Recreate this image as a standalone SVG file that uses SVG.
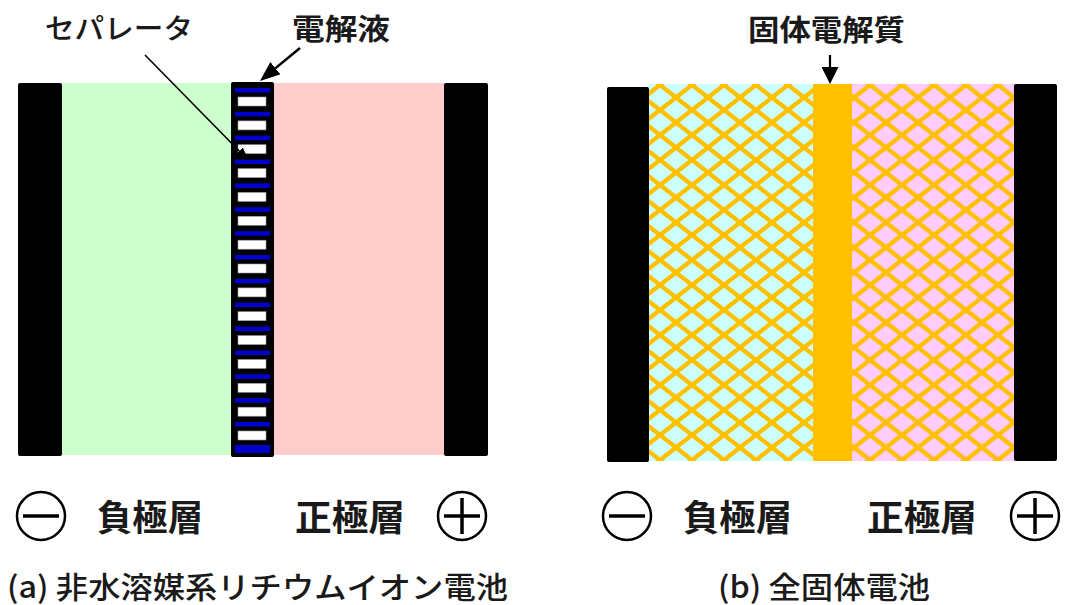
<svg xmlns="http://www.w3.org/2000/svg" width="1065" height="605" viewBox="0 0 1065 605">
<style>
.jp{font-family:"Noto Sans CJK JP","Noto Sans",sans-serif;fill:#1a1a1a}
.b{font-weight:bold}
.m{font-weight:500}
.elec{fill:#000}
.bar{fill:#0000cc}
.cell{fill:#fff;stroke:#999;stroke-width:0.6}
.sym{fill:none;stroke:#000;stroke-width:2.5}
.symline{stroke:#000;stroke-width:3.5}
.lead{stroke:#000;fill:none}
</style>
<defs>
<pattern id="hatchA" x="660" y="85" width="32" height="25" patternUnits="userSpaceOnUse">
<path d="M-32,-50 L64,25 M-32,-25 L64,50 M-32,0 L64,75 M-32,25 L64,-50 M-32,50 L64,-25 M-32,75 L64,0" stroke="#ffc000" stroke-width="4.5" fill="none"/>
</pattern>
<pattern id="hatchB" x="870" y="85" width="32" height="25" patternUnits="userSpaceOnUse">
<path d="M-32,-50 L64,25 M-32,-25 L64,50 M-32,0 L64,75 M-32,25 L64,-50 M-32,50 L64,-25 M-32,75 L64,0" stroke="#ffc000" stroke-width="4.5" fill="none"/>
</pattern>
<marker id="arrS" viewBox="0 0 14 10" markerWidth="14" markerHeight="10" refX="7" refY="5" orient="auto" markerUnits="userSpaceOnUse"><path d="M0,0 L14,5 L0,10 z" fill="#000"/></marker>
<marker id="arrL" viewBox="0 0 20 16" markerWidth="20" markerHeight="16" refX="10" refY="8" orient="auto" markerUnits="userSpaceOnUse"><path d="M0,0 L20,8 L0,16 z" fill="#000"/></marker>
<marker id="arrD" viewBox="0 0 17 17" markerWidth="17" markerHeight="17" refX="9" refY="8.5" orient="auto" markerUnits="userSpaceOnUse"><path d="M0,0 L17,8.5 L0,17 z" fill="#000"/></marker>
</defs>
<rect width="1065" height="605" fill="#fff"/>

<!-- Panel (a) -->
<g id="a-neg-electrode"><rect class="elec" x="18" y="83" width="44" height="373" rx="2"/></g>
<g id="a-neg-layer"><rect x="62" y="83" width="169" height="372" fill="#ccffcc"/></g>
<g id="a-pos-layer"><rect x="274" y="83" width="170" height="372" fill="#ffcccc"/></g>
<g id="a-pos-electrode"><rect class="elec" x="444" y="83" width="44" height="373" rx="2"/></g>
<g id="a-separator">
<rect class="elec" x="231" y="82" width="43" height="375" rx="2"/>
<rect class="bar" x="235" y="88" width="35" height="4.5"/>
<rect class="bar" x="235" y="111.9" width="35" height="4.5"/>
<rect class="bar" x="235" y="135.7" width="35" height="4.5"/>
<rect class="bar" x="235" y="159.6" width="35" height="4.5"/>
<rect class="bar" x="235" y="183.4" width="35" height="4.5"/>
<rect class="bar" x="235" y="207.3" width="35" height="4.5"/>
<rect class="bar" x="235" y="231.2" width="35" height="4.5"/>
<rect class="bar" x="235" y="255" width="35" height="4.5"/>
<rect class="bar" x="235" y="278.9" width="35" height="4.5"/>
<rect class="bar" x="235" y="302.7" width="35" height="4.5"/>
<rect class="bar" x="235" y="326.6" width="35" height="4.5"/>
<rect class="bar" x="235" y="350.5" width="35" height="4.5"/>
<rect class="bar" x="235" y="374.3" width="35" height="4.5"/>
<rect class="bar" x="235" y="398.2" width="35" height="4.5"/>
<rect class="bar" x="235" y="422" width="35" height="4.5"/>
<rect class="bar" x="235" y="445" width="35" height="8"/>
<rect class="cell" x="238" y="97" width="28" height="9"/>
<rect class="cell" x="238" y="120.9" width="28" height="9"/>
<rect class="cell" x="238" y="144.7" width="28" height="9"/>
<rect class="cell" x="238" y="168.6" width="28" height="9"/>
<rect class="cell" x="238" y="192.4" width="28" height="9"/>
<rect class="cell" x="238" y="216.3" width="28" height="9"/>
<rect class="cell" x="238" y="240.2" width="28" height="9"/>
<rect class="cell" x="238" y="264" width="28" height="9"/>
<rect class="cell" x="238" y="287.9" width="28" height="9"/>
<rect class="cell" x="238" y="311.7" width="28" height="9"/>
<rect class="cell" x="238" y="335.6" width="28" height="9"/>
<rect class="cell" x="238" y="359.5" width="28" height="9"/>
<rect class="cell" x="238" y="383.3" width="28" height="9"/>
<rect class="cell" x="238" y="407.2" width="28" height="9"/>
<rect class="cell" x="238" y="431" width="28" height="9"/>
</g>

<g id="a-label-separator"><text class="jp m" x="45" y="39" font-size="28" textLength="148" lengthAdjust="spacingAndGlyphs">セパレータ</text></g>
<g id="a-label-electrolyte"><text class="jp b" x="292" y="40" font-size="29" textLength="98" lengthAdjust="spacingAndGlyphs">電解液</text></g>

<g id="a-minus">
<circle class="sym" cx="41" cy="516" r="24"/>
<line class="symline" x1="23" y1="516" x2="59" y2="516"/>
</g>
<g id="a-label-neg"><text class="jp b" x="97" y="531" font-size="36" textLength="106" lengthAdjust="spacingAndGlyphs">負極層</text></g>
<g id="a-label-pos"><text class="jp b" x="295" y="531" font-size="36" textLength="110" lengthAdjust="spacingAndGlyphs">正極層</text></g>
<g id="a-plus">
<circle class="sym" cx="462" cy="516" r="24"/>
<line class="symline" x1="444" y1="516" x2="480" y2="516"/>
<line class="symline" x1="462" y1="498" x2="462" y2="534"/>
</g>
<g id="a-caption"><text class="jp m" x="7" y="598" font-size="30" textLength="501" lengthAdjust="spacingAndGlyphs">(a) 非水溶媒系リチウムイオン電池</text></g>

<!-- Panel (b) -->
<g id="b-neg-electrode"><rect class="elec" x="607" y="87" width="42" height="375" rx="2"/></g>
<g id="b-neg-layer">
<rect x="649" y="84" width="164" height="377" fill="#ccffff"/>
<rect x="649" y="84" width="164" height="377" fill="url(#hatchA)"/>
</g>
<g id="b-solid-electrolyte"><rect x="813" y="84" width="39" height="377" fill="#ffc000"/></g>
<g id="b-pos-layer">
<rect x="852" y="84" width="163" height="377" fill="#ffccff"/>
<rect x="852" y="84" width="163" height="377" fill="url(#hatchB)"/>
</g>
<g id="b-pos-electrode"><rect class="elec" x="1014" y="84" width="43" height="377" rx="2"/></g>

<g id="b-label-electrolyte"><text class="jp b" x="748" y="41" font-size="29" textLength="157" lengthAdjust="spacingAndGlyphs">固体電解質</text></g>

<g id="b-minus">
<circle class="sym" cx="627" cy="516" r="24"/>
<line class="symline" x1="609" y1="516" x2="645" y2="516"/>
</g>
<g id="b-label-neg"><text class="jp b" x="683" y="531" font-size="36" textLength="109" lengthAdjust="spacingAndGlyphs">負極層</text></g>
<g id="b-label-pos"><text class="jp b" x="867" y="531" font-size="36" textLength="110" lengthAdjust="spacingAndGlyphs">正極層</text></g>
<g id="b-plus">
<circle class="sym" cx="1035" cy="516" r="24"/>
<line class="symline" x1="1017" y1="516" x2="1053" y2="516"/>
<line class="symline" x1="1035" y1="498" x2="1035" y2="534"/>
</g>
<g id="b-caption"><text class="jp m" x="718" y="598" font-size="30" textLength="212" lengthAdjust="spacingAndGlyphs">(b) 全固体電池</text></g>

<!-- Connectors -->
<g id="connectors">
<line class="lead" x1="145" y1="55" x2="244.1" y2="156" stroke-width="1.6" marker-end="url(#arrS)"/>
<line class="lead" x1="300" y1="48" x2="267.7" y2="74.6" stroke-width="2.5" marker-end="url(#arrL)"/>
<line class="lead" x1="830" y1="55" x2="830" y2="76" stroke-width="2.2" marker-end="url(#arrD)"/>
</g>
</svg>
